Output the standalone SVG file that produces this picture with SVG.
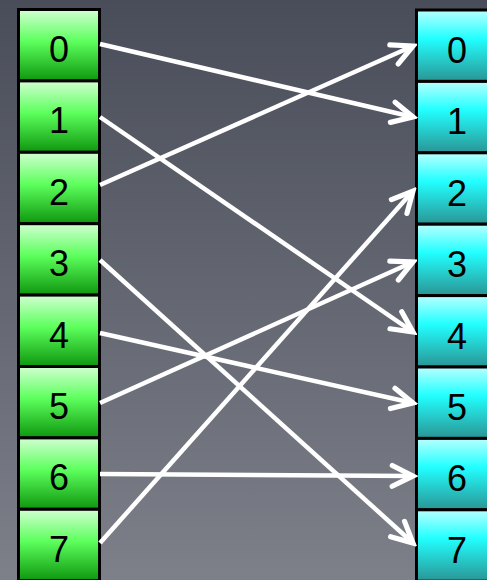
<svg xmlns="http://www.w3.org/2000/svg" width="487" height="580" viewBox="0 0 487 580">
<defs>
<linearGradient id="bg" x1="0" y1="0" x2="0" y2="1">
<stop offset="0" stop-color="#494d59"/>
<stop offset="1" stop-color="#7d8089"/>
</linearGradient>
<linearGradient id="gG" x1="0" y1="0" x2="0" y2="1">
<stop offset="0" stop-color="#d2ffd2"/>
<stop offset="0.45" stop-color="#5cff5c"/>
<stop offset="1" stop-color="#0e960e"/>
</linearGradient>
<linearGradient id="gC" x1="0" y1="0" x2="0" y2="1">
<stop offset="0" stop-color="#b8ffff"/>
<stop offset="0.4" stop-color="#22ffff"/>
<stop offset="1" stop-color="#2a9494"/>
</linearGradient>
<marker id="ah" markerUnits="userSpaceOnUse" markerWidth="30" markerHeight="30" viewBox="-22 -13 26 26" refX="0" refY="0" orient="auto">
<path d="M-18,-9 L0,0 L-18,9" fill="none" stroke="#ffffff" stroke-width="4.5" stroke-linecap="round" stroke-linejoin="miter"/>
</marker>
</defs>
<style>
.lb{fill:url(#gG);stroke:#000;stroke-width:3}
.rb{fill:url(#gC);stroke:#000;stroke-width:3}
.t{font-family:"Liberation Sans",Arial,sans-serif;font-size:36px;fill:#000;text-anchor:middle}
.c{stroke:#fff;stroke-width:4.5;fill:none;marker-end:url(#ah)}
</style>
<rect x="0" y="0" width="487" height="580" fill="url(#bg)"/>
<g id="left">
<g id="L0"><rect class="lb" x="18.5" y="9.5" width="81" height="71.4"/><text class="t" x="59" y="62">0</text></g>
<g id="L1"><rect class="lb" x="18.5" y="80.9" width="81" height="71.4"/><text class="t" x="59" y="133.4">1</text></g>
<g id="L2"><rect class="lb" x="18.5" y="152.3" width="81" height="71.4"/><text class="t" x="59" y="204.8">2</text></g>
<g id="L3"><rect class="lb" x="18.5" y="223.7" width="81" height="71.4"/><text class="t" x="59" y="276.2">3</text></g>
<g id="L4"><rect class="lb" x="18.5" y="295.1" width="81" height="71.4"/><text class="t" x="59" y="347.6">4</text></g>
<g id="L5"><rect class="lb" x="18.5" y="366.5" width="81" height="71.4"/><text class="t" x="59" y="419">5</text></g>
<g id="L6"><rect class="lb" x="18.5" y="437.9" width="81" height="71.4"/><text class="t" x="59" y="490.4">6</text></g>
<g id="L7"><rect class="lb" x="18.5" y="509.3" width="81" height="71.4"/><text class="t" x="59" y="561.8">7</text></g>
</g>
<g id="right">
<g id="R0"><rect class="rb" x="416.5" y="10" width="83" height="71.4"/><text class="t" x="457" y="63">0</text></g>
<g id="R1"><rect class="rb" x="416.5" y="81.4" width="83" height="71.4"/><text class="t" x="457" y="134.4">1</text></g>
<g id="R2"><rect class="rb" x="416.5" y="152.8" width="83" height="71.4"/><text class="t" x="457" y="205.8">2</text></g>
<g id="R3"><rect class="rb" x="416.5" y="224.2" width="83" height="71.4"/><text class="t" x="457" y="277.2">3</text></g>
<g id="R4"><rect class="rb" x="416.5" y="295.6" width="83" height="71.4"/><text class="t" x="457" y="348.6">4</text></g>
<g id="R5"><rect class="rb" x="416.5" y="367" width="83" height="71.4"/><text class="t" x="457" y="420">5</text></g>
<g id="R6"><rect class="rb" x="416.5" y="438.4" width="83" height="71.4"/><text class="t" x="457" y="491.4">6</text></g>
<g id="R7"><rect class="rb" x="416.5" y="509.8" width="83" height="71.4"/><text class="t" x="457" y="562.8">7</text></g>
</g>
<g id="connectors">
<line class="c" x1="100" y1="44" x2="413" y2="117"/>
<line class="c" x1="100" y1="117" x2="413" y2="332"/>
<line class="c" x1="100" y1="185" x2="413" y2="46"/>
<line class="c" x1="100" y1="260" x2="413" y2="543"/>
<line class="c" x1="100" y1="333" x2="413" y2="403"/>
<line class="c" x1="100" y1="403" x2="413" y2="262"/>
<line class="c" x1="100" y1="474" x2="413" y2="476"/>
<line class="c" x1="100" y1="543" x2="413" y2="191"/>
</g>
</svg>
